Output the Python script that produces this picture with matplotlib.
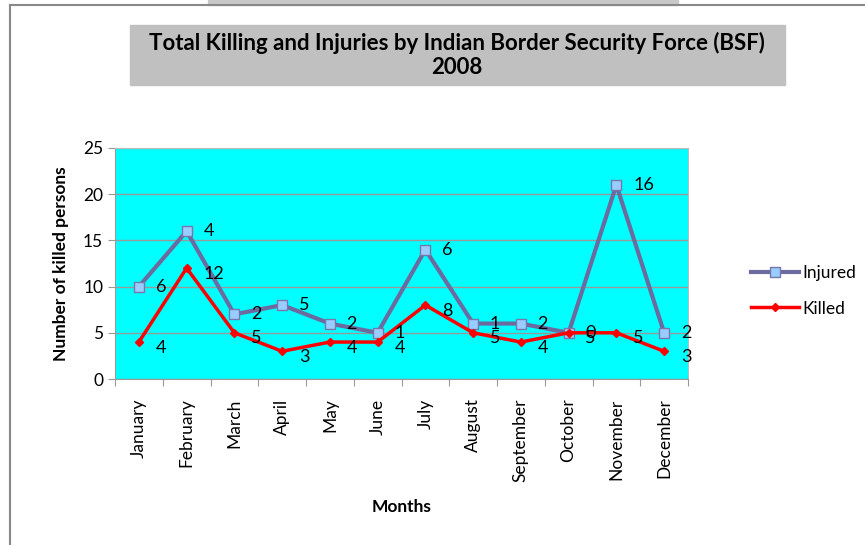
import matplotlib.pyplot as plt
import numpy as np
from matplotlib.patches import Rectangle
from matplotlib.lines import Line2D

months = ["January", "February", "March", "April", "May", "June", "July",
          "August", "September", "October", "November", "December"]
killed = [4, 12, 5, 3, 4, 4, 8, 5, 4, 5, 5, 3]
injured = [6, 4, 2, 5, 2, 1, 6, 1, 2, 0, 16, 2]

plt.rcParams['font.family'] = ['Lato', 'DejaVu Sans']

# stacked line chart: injured is drawn on top of killed
stacked = np.array(killed) + np.array(injured)
x = np.arange(len(months)) + 0.5

fig = plt.figure(figsize=(8.65, 5.45), dpi=100)

# outer frame and title box
fig.add_artist(Line2D([10/865, 10/865], [0, 1 - 5/545], color="#888888", lw=1.5))
fig.add_artist(Line2D([10/865, 1], [1 - 5/545, 1 - 5/545], color="#888888", lw=1.5))
fig.add_artist(Rectangle((208/865, 1 - 5/545), 470/865, 5/545, color="#c8c8c8"))
fig.add_artist(Rectangle((130/865, 1 - 85/545), 655/865, 60/545, color="#c0c0c0"))
fig.text(457/865, 1 - 55/545,
         "Total Killing and Injuries by Indian Border Security Force (BSF)\n2008",
         ha="center", va="center", fontsize=16, fontweight="bold",
         linespacing=1.15)

ax = fig.add_axes([115/865, 1 - 379/545, 573/865, 231/545])
ax.set_facecolor("#00FFFF")

ax.plot(x, stacked, color="#6B6B9F", lw=3, marker="s", ms=7,
        mfc="#99CCFF", mec="#7777AA", mew=1, label="Injured", zorder=3)
ax.plot(x, killed, color="#FF0000", lw=2.5, marker="D", ms=4,
        mfc="#FF0000", mec="#FF0000", label="Killed", zorder=4)

for xi, yi, v in zip(x, stacked, injured):
    ax.annotate(str(v), (xi, yi), xytext=(12, 0), textcoords="offset points",
                ha="left", va="center", fontsize=13, zorder=5)
for xi, yi, v in zip(x, killed, killed):
    ax.annotate(str(v), (xi, yi), xytext=(12, -4), textcoords="offset points",
                ha="left", va="center", fontsize=13, zorder=5)

ax.set_xlim(0, 12)
ax.set_ylim(0, 25)
ax.set_xticks(np.arange(13))
ax.set_xticklabels([])
ax.set_xticks(x, minor=True)
ax.set_xticklabels(months, minor=True, rotation=90, fontsize=12.5)
ax.tick_params(axis="x", which="minor", length=0, pad=14)
ax.tick_params(axis="x", which="major", length=5, color="#999999")
ax.set_yticks([0, 5, 10, 15, 20, 25])
ax.tick_params(axis="y", labelsize=12.5, length=5, color="#999999")
ax.grid(axis="y", color="#999999", lw=1)
ax.set_axisbelow(True)
for s in ax.spines.values():
    s.set_color("#bbbbbb")
ax.spines["left"].set_color("#999999")
ax.spines["bottom"].set_color("#999999")

ax.set_xlabel("Months", fontsize=12.5, fontweight="bold", labelpad=12)
ax.set_ylabel("Number of killed persons", fontsize=12.5, fontweight="bold",
              labelpad=10)

leg = fig.legend(handles=ax.get_lines(), loc="center left",
                 bbox_to_anchor=(735/865, 1 - 291/545), frameon=False,
                 fontsize=12.5, handlelength=2.8, labelspacing=1.1,
                 handletextpad=0.2)

fig.savefig("out.png", dpi=100)
